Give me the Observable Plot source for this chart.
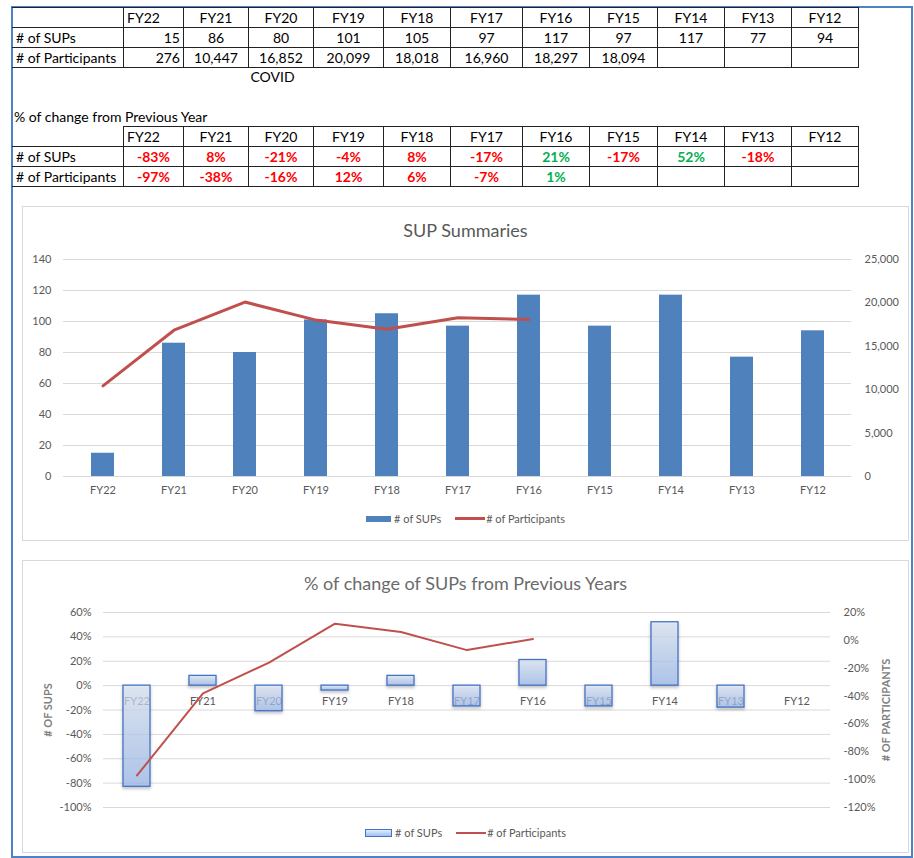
<!DOCTYPE html>
<html><head><meta charset="utf-8">
<script src="https://cdn.jsdelivr.net/npm/d3@7"></script>
<script src="https://cdn.jsdelivr.net/npm/@observablehq/plot@0.6"></script>
<style>
body{margin:0;background:#fff;font-family:Lato,"Noto Sans",sans-serif;}
#page{position:relative;width:914px;height:858px;overflow:hidden;background:#fff;}
.abs{position:absolute;}
#frame{position:absolute;left:11px;top:6px;width:898px;height:848px;border:2px solid #4f81c7;}
table.xl{position:absolute;border-collapse:collapse;table-layout:fixed;font-size:14px;color:#000;}
table.xl td{height:19px;padding:0 3px;border:1px solid #222;white-space:nowrap;overflow:hidden;line-height:19px;}
table.xl td.c{text-align:center;}
table.xl td.r{text-align:right;}
table.xl td.l{text-align:left;}
.neg{color:#ff0000;font-weight:bold;}
.pos{color:#00b050;font-weight:bold;}
.box{position:absolute;border:1px solid #d9d9d9;background:#fff;}
.ctitle{position:absolute;left:0;right:0;text-align:center;color:#595959;font-size:18px;}
.legend{position:absolute;left:0;right:0;display:flex;justify-content:center;align-items:center;font-size:11px;color:#595959;}
.legend .sw{display:inline-block;margin-right:3px;}
.legend .item{display:flex;align-items:center;margin:0 7px;}
</style></head>
<body><div id="page">
<div class="abs" style="left:20px;top:-22px;font-size:20px;font-weight:bold;line-height:20px;white-space:nowrap;color:#000;">Sup Participation Summary (Including Training Days) by Year</div>
<div id="frame"></div>
</div>
<script>
// ---------- data ----------
const years = ["FY22","FY21","FY20","FY19","FY18","FY17","FY16","FY15","FY14","FY13","FY12"];
const sups = [15, 86, 80, 101, 105, 97, 117, 97, 117, 77, 94];
const participants = [276, 10447, 16852, 20099, 18018, 16960, 18297, 18094, null, null, null];
const supChange = [-83, 8, -21, -4, 8, -17, 21, -17, 52, -18, null];
const partChange = [-97, -38, -16, 12, 6, -7, 1, null, null, null, null];
// cells the sheet highlights in green (all other % cells are red)
const supChangeGreen = ["FY16", "FY14"];
const partChangeGreen = ["FY16"];
const notes = ["", "", "COVID", "", "", "", "", "", "", "", ""];
// participants line as drawn in "SUP Summaries" (series plotted one column earlier)
const summaryLine = [10447, 16852, 20099, 18018, 16960, 18297, 18094];
const leftTicks1 = [0, 20, 40, 60, 80, 100, 120, 140];
const rightTicks1 = [0, 5000, 10000, 15000, 20000, 25000];
const leftTicks2 = [60, 40, 20, 0, -20, -40, -60, -80, -100];
const rightTicks2 = [20, 0, -20, -40, -60, -80, -100, -120];

const page = document.getElementById("page");
const colW = [111, 60, 65, 65, 70, 67, 72, 67, 68, 67, 67, 67];

function makeTable(top, rows, hideFirstTop) {
  const t = document.createElement("table");
  t.className = "xl";
  t.style.left = "12px"; t.style.top = top + "px";
  const cg = document.createElement("colgroup");
  colW.forEach(w => { const c = document.createElement("col"); c.style.width = w + "px"; cg.appendChild(c); });
  t.appendChild(cg);
  rows.forEach((r, ri) => {
    const tr = document.createElement("tr");
    r.forEach((cell, ci) => {
      const td = document.createElement("td");
      td.className = cell.cls || "";
      td.innerHTML = cell.html;
      if (ci === 0) td.style.borderLeftColor = "transparent";
      if (ri === 0 && ci === 0 && hideFirstTop) td.style.borderTopColor = "transparent";
      tr.appendChild(td);
    });
    t.appendChild(tr);
  });
  page.appendChild(t);
}
const fmtN = d3.format(",");
const hdr = [{html: "", cls: ""}].concat(years.map((y, i) => ({html: y, cls: i === 0 ? "l" : "c"})));
makeTable(7, [
  hdr,
  [{html: "# of SUPs", cls: "l"}].concat(sups.map((v, i) => ({html: v == null ? "" : fmtN(v), cls: i === 0 ? "r" : "c"}))),
  [{html: "# of Participants", cls: "l"}].concat(participants.map((v, i) => ({html: v == null ? "" : fmtN(v), cls: i === 0 ? "r" : "c"})))
], false);
const pc = (v, green) => v == null ? "" : `<span class="${green ? "pos" : "neg"}">${v}%</span>`;
makeTable(126, [
  hdr,
  [{html: "# of SUPs", cls: "l"}].concat(supChange.map((v, i) => ({html: pc(v, supChangeGreen.includes(years[i])), cls: "c"}))),
  [{html: "# of Participants", cls: "l"}].concat(partChange.map((v, i) => ({html: pc(v, partChangeGreen.includes(years[i])), cls: "c"})))
], true);

// notes row + caption
notes.forEach((n, i) => {
  if (!n) return;
  const x0 = 12 + colW.slice(0, i + 1).reduce((a, b) => a + b, 0);
  const d = document.createElement("div");
  d.className = "abs";
  d.style.cssText = `left:${x0 - 8}px;top:68px;width:${colW[i + 1]}px;text-align:center;font-size:14px;`;
  d.textContent = n;
  page.appendChild(d);
});
const cap = document.createElement("div");
cap.className = "abs"; cap.style.cssText = "left:14px;top:108px;font-size:14px;";
cap.textContent = "% of change from Previous Year";
page.appendChild(cap);

// ---------- Chart 1 ----------
const box1 = document.createElement("div");
box1.className = "box"; box1.style.cssText += "left:22px;top:206px;width:885px;height:333px;";
page.appendChild(box1);
const t1 = document.createElement("div"); t1.className = "ctitle"; t1.style.top = "12px"; t1.textContent = "SUP Summaries"; box1.appendChild(t1);

const s1 = 140 / 25000;
const barData1 = years.map((y, i) => ({year: y, v: sups[i]}));
const lineData1 = summaryLine.map((v, i) => ({year: years[i], v}));
const chart1 = Plot.plot({
  width: 885, height: 262, marginTop: 12, marginBottom: 33, marginLeft: 40, marginRight: 57,
  style: {fontFamily: "Lato, 'Noto Sans', sans-serif", fontSize: "11px", color: "#595959", background: "transparent"},
  x: {domain: years, paddingInner: 0.68, paddingOuter: 0.34, axis: null},
  y: {domain: [0, 140], axis: null},
  marks: [
    Plot.gridY(leftTicks1, {stroke: "#d9d9d9", strokeOpacity: 1}),
    Plot.barY(barData1, {x: "year", y: "v", fill: "#4f81bd"}),
    Plot.line(lineData1, {x: "year", y: d => d.v * s1, stroke: "#c0504d", strokeWidth: 3}),
    Plot.text(leftTicks1, {y: d => d, text: d => String(d), frameAnchor: "left", textAnchor: "end", dx: -12, fill: "#595959"}),
    Plot.text(rightTicks1, {y: d => d * s1, text: d => fmtN(d), frameAnchor: "right", textAnchor: "start", dx: 13, fill: "#595959"}),
    Plot.text(years, {x: d => d, text: d => d, frameAnchor: "bottom", dy: 17, fill: "#595959"})
  ]
});
chart1.style.position = "absolute"; chart1.style.left = "0px"; chart1.style.top = "40px";
box1.appendChild(chart1);
const lg1 = document.createElement("div"); lg1.className = "legend"; lg1.style.top = "305px";
lg1.innerHTML = `<span class="item"><span class="sw" style="width:25px;height:6px;background:#4f81bd"></span># of SUPs</span><span class="item"><span class="sw" style="width:30px;height:3px;background:#c0504d;margin-right:1px"></span># of Participants</span>`;
box1.appendChild(lg1);

// ---------- Chart 2 ----------
const box2 = document.createElement("div");
box2.className = "box"; box2.style.cssText += "left:22px;top:560px;width:885px;height:291px;";
page.appendChild(box2);
const t2 = document.createElement("div"); t2.className = "ctitle"; t2.style.top = "11px"; t2.style.color = "#6b6b6b"; t2.textContent = "% of change of SUPs from Previous Years"; box2.appendChild(t2);

const r2 = d => -100 + (d + 120) * 160 / 140;
const barData2 = years.map((y, i) => ({year: y, v: supChange[i]})).filter(d => d.v != null);
const lineData2 = years.map((y, i) => ({year: y, v: partChange[i]})).filter(d => d.v != null);
const chart2 = Plot.plot({
  width: 885, height: 220, marginTop: 11, marginBottom: 14, marginLeft: 80, marginRight: 78,
  style: {fontFamily: "Lato, 'Noto Sans', sans-serif", fontSize: "11px", color: "#595959", background: "transparent"},
  x: {domain: years, paddingInner: 0.59, paddingOuter: 0.295, axis: null},
  y: {domain: [-100, 60], axis: null},
  marks: [
    Plot.gridY(leftTicks2, {stroke: "#d9d9d9", strokeOpacity: 1}),
    Plot.text(years, {x: d => d, y: () => 0, text: d => d, dy: 16, fill: "#595959"}),
    Plot.barY(barData2, {x: "year", y: "v", fill: "url(#supgrad)", fillOpacity: 0.7, stroke: "#4472c4", strokeWidth: 1.3}),
    Plot.line(lineData2, {x: "year", y: d => r2(d.v), stroke: "#c0504d", strokeWidth: 2}),
    Plot.text(leftTicks2, {y: d => d, text: d => d + "%", frameAnchor: "left", textAnchor: "end", dx: -12, fill: "#595959"}),
    Plot.text(rightTicks2, {y: d => r2(d), text: d => d + "%", frameAnchor: "right", textAnchor: "start", dx: 13, fill: "#595959"}),
    Plot.text(["# OF SUPS"], {text: d => d, frameAnchor: "left", textAnchor: "middle", dx: -55, rotate: -90, fill: "#7f7f7f", fontSize: 11, fontWeight: "bold"}),
    Plot.text(["# OF PARTICIPANTS"], {text: d => d, frameAnchor: "right", textAnchor: "middle", dx: 56, rotate: -90, fill: "#7f7f7f", fontSize: 11, fontWeight: "bold"})
  ]
});
const defs = document.createElementNS("http://www.w3.org/2000/svg", "defs");
defs.innerHTML = `<linearGradient id="supgrad" x1="0" y1="0" x2="0" y2="1"><stop offset="0" stop-color="#e3edfd"/><stop offset="1" stop-color="#9fbff4"/></linearGradient>`;
chart2.insertBefore(defs, chart2.firstChild);
const barG = chart2.querySelector('g[aria-label="bar"]');
if (barG) barG.style.filter = "drop-shadow(0px 2px 1.5px rgba(0,0,0,0.28))";
chart2.style.position = "absolute"; chart2.style.left = "0px"; chart2.style.top = "40px";
box2.appendChild(chart2);
const lg2 = document.createElement("div"); lg2.className = "legend"; lg2.style.top = "265px";
lg2.innerHTML = `<span class="item"><span class="sw" style="width:25px;height:6px;background:linear-gradient(#e3edfd,#9fbff4);border:1px solid #4472c4"></span># of SUPs</span><span class="item"><span class="sw" style="width:30px;height:2px;background:#c0504d;margin-right:1px"></span># of Participants</span>`;
box2.appendChild(lg2);
</script>
</body></html>
